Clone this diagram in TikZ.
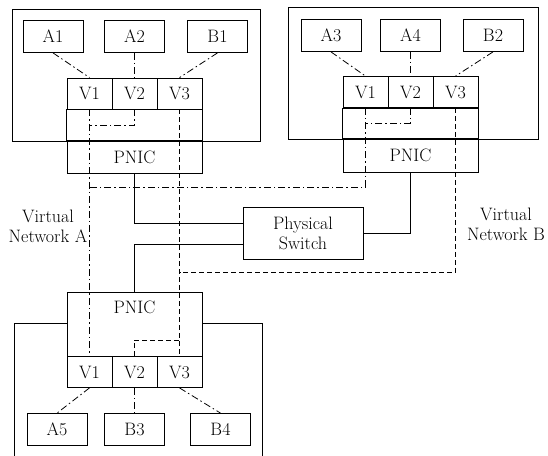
\documentclass[tikz,border=0pt]{standalone}
\usepackage{fontspec}
\usepackage{tikz}
\begin{document}
\begin{tikzpicture}[x=1pt, y=-1pt, line width=0.8pt,
				font=\fontsize{18}{20}\selectfont,
				box/.style={draw, rectangle, minimum width=60pt, minimum height=32pt, inner sep=0pt},
				vm/.style={draw, rectangle, minimum width=45pt, minimum height=31pt, inner sep=0pt},
				nic/.style={draw, rectangle, minimum width=135pt, minimum height=32pt, inner sep=0pt},
				dashdot/.style={dash pattern=on 7pt off 3pt on 1.5pt off 3pt},
				dashline/.style={dash pattern=on 5pt off 3pt}]
				\useasboundingbox (0,0) rectangle (548,455);
				% Rechner zeichnen
				\draw (12,9) rectangle (260,141);
				\draw (288,7) rectangle (538,139);
				\draw (14,323) rectangle (262,470);
				% Rechner 1
				\node[box] (a1) at (53,36.5) {A1};
				\node[box] (a2) at (134.5,36.5) {A2};
				\node[box] (b1) at (217.5,36.5) {B1};
				\foreach \i/\x in {1/89.5,2/134.5,3/179.5} \node[vm] (h1v\i) at (\x,93.5) {V\i};
				\node[nic] (pnic1) at (134.5,157) {PNIC};
				\draw (h1v1.south west) rectangle (pnic1.north east);
				% Rechner 2
				\node[box] (a3) at (331,35.5) {A3};
				\node[box] (a4) at (410.5,35.5) {A4};
				\node[box] (b2) at (493,35.5) {B2};
				\foreach \i/\x in {1/365.5,2/410.5,3/455.5} \node[vm] (h2v\i) at (\x,92) {V\i};
				\node[nic, minimum height=33pt] (pnic2) at (410.5,155.5) {PNIC};
				\draw (h2v1.south west) rectangle (pnic2.north east);
				% Rechner 3
				\node[nic, minimum height=64pt, fill=white] (pnic3) at (134.5,324) {};
				\node (pnic3txt) at (134.5,307) {PNIC};
				\foreach \i/\x in {1/89.5,2/134.5,3/179.5} \node[vm] (h3v\i) at (\x,372) {V\i};
				\node[box] (a5) at (57,429.5) {A5};
				\node[box] (b3) at (134.5,429.5) {B3};
				\node[box] (b4) at (220.5,429.5) {B4};
				% Switch und Beschriftung
				\node[draw, minimum width=120pt, minimum height=52pt, inner sep=0pt, align=center] (switch) at (303,233) {Physical\\Switch};
				\node[align=center] (lblA) at (48,226) {Virtual\\Network A};
				\node[align=center] (lblB) at (506,224) {Virtual\\Network B};
				% VM-Anschluesse
				\draw[dashdot] (a1.south) -- (h1v1.north);
				\draw[dashdot] (a2.south) -- (h1v2.north);
				\draw[dashdot] (b1.south) -- (h1v3.north);
				\draw[dashdot] (a3.south) -- (h2v1.north);
				\draw[dashdot] (a4.south) -- (h2v2.north);
				\draw[dashdot] (b2.south) -- (h2v3.north);
				\draw[dashdot] (h3v1.south) -- (a5.north);
				\draw[dashdot] (h3v2.south) -- (b3.north);
				\draw[dashdot] (h3v3.south) -- (b4.north);
				% physische Leitungen
				\draw (pnic1.south) |- ([yshift=10pt]switch.west);
				\draw ([yshift=-11pt]switch.west) -| (pnic3.north);
				\draw (pnic2.south) |- (switch.east);
				% Virtual Network A
				\coordinate (h1j) at (89.5,125);
				\coordinate (h2j) at (365.5,123);
				\coordinate (joinA) at (89.5,187);
				\draw[dashdot] (h1v1.south) -- (h3v1.north);
				\draw[dashdot] (h1v2.south) |- (h1j);
				\draw[dashdot] (h2v2.south) |- (h2j);
				\draw[dashdot] (h2v1.south) |- (joinA);
				% Virtual Network B
				\coordinate (joinB) at (179.5,272);
				\coordinate (h3j) at (179.5,340);
				\draw[dashline] (h1v3.south) -- (h3v3.north);
				\draw[dashline] (h2v3.south) |- (joinB);
				\draw[dashline] (h3v2.north) |- (h3j);
\end{tikzpicture}
\end{document}
